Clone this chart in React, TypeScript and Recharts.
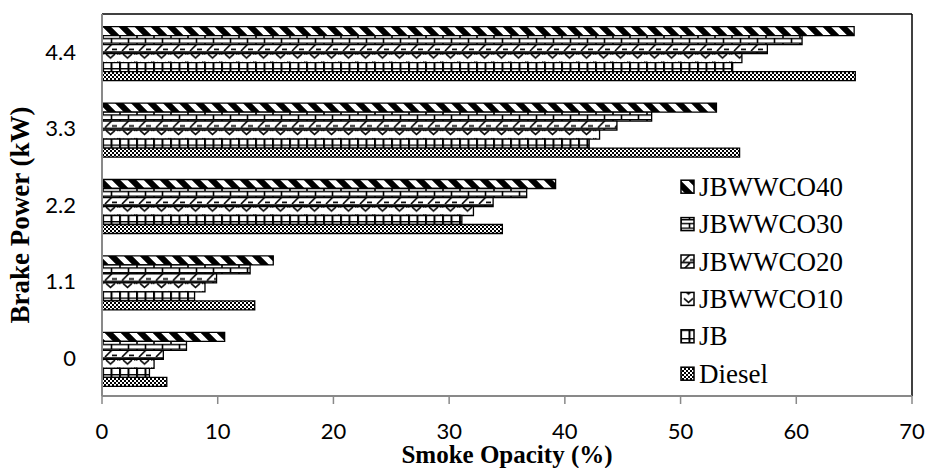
import React from 'react';
import { BarChart, Bar, XAxis, YAxis, Legend, ReferenceLine } from 'recharts';

// Brake power levels (category axis, bottom to top)
const powerLevels = ['0', '1.1', '2.2', '3.3', '4.4'];

// Smoke opacity (%) per fuel blend at each brake power level
const jbwwco40 = [10.6, 14.8, 39.2, 53.1, 65.0];
const jbwwco30 = [7.3, 12.8, 36.7, 47.5, 60.5];
const jbwwco20 = [5.3, 9.9, 33.8, 44.5, 57.5];
const jbwwco10 = [4.5, 8.9, 32.1, 43.0, 55.3];
const jb = [4.1, 8.0, 31.1, 42.1, 54.5];
const diesel = [5.6, 13.2, 34.6, 55.1, 65.1];

const xTicks = [0, 10, 20, 30, 40, 50, 60, 70];

const seriesList = [
  { key: 'JBWWCO40', values: jbwwco40, pattern: 'p40' },
  { key: 'JBWWCO30', values: jbwwco30, pattern: 'p30' },
  { key: 'JBWWCO20', values: jbwwco20, pattern: 'p20' },
  { key: 'JBWWCO10', values: jbwwco10, pattern: 'p10' },
  { key: 'JB', values: jb, pattern: 'pjb' },
  { key: 'Diesel', values: diesel, pattern: 'pdiesel' },
];

const data = powerLevels.map((power, i) => {
  const row: Record<string, string | number> = { power };
  seriesList.forEach((s) => {
    row[s.key] = s.values[i];
  });
  return row;
});

const AXIS_GRAY = '#898989';
const tickFont = { fill: '#000', fontFamily: 'Lato, Calibri, sans-serif', fontSize: 22 };
const SERIF = 'Liberation Serif';

const YTitle = (props: any) => {
  const vb = props.viewBox || { x: 0, y: 14, width: 102, height: 382 };
  const cx = vb.x + 20;
  const cy = vb.y + vb.height / 2 + 10;
  return (
    <text
      x={cx}
      y={cy}
      transform={`rotate(-90 ${cx} ${cy})`}
      textAnchor="middle"
      dominantBaseline="central"
      fontFamily={SERIF}
      fontWeight="bold"
      fontSize={27}
      fill="#000"
    >
      Brake Power (kW)
    </text>
  );
};

const XTitle = (props: any) => {
  const vb = props.viewBox || { x: 102, y: 396, width: 810, height: 72 };
  const cx = vb.x + vb.width / 2;
  const cy = vb.y + 58;
  return (
    <text
      x={cx}
      y={cy}
      textAnchor="middle"
      dominantBaseline="central"
      fontFamily={SERIF}
      fontWeight="bold"
      fontSize={25}
      fill="#000"
    >
      Smoke Opacity (%)
    </text>
  );
};

const ROW = 37.4;

const LegendContent = () => (
  <svg width={230} height={ROW * seriesList.length}>
    {seriesList.map((s, i) => {
      const cy = ROW * i + ROW / 2;
      return (
        <g key={s.key}>
          <rect x={1} y={cy - 6.5} width={13} height={13} fill={`url(#${s.pattern})`} stroke="#000" strokeWidth={1.5} />
          <text x={19} y={cy} dominantBaseline="central" fontFamily={SERIF} fontSize={27} fill="#000">
            {s.key}
          </text>
        </g>
      );
    })}
  </svg>
);

export default function App() {
  return (
    <div style={{ position: 'absolute', left: 0, top: 0, width: 927, height: 468, background: '#fff' }}>
      <BarChart
        width={927}
        height={468}
        data={data}
        layout="vertical"
        margin={{ top: 14, right: 15, bottom: 0, left: 0 }}
        barCategoryGap="16.6%"
        barGap={0}
      >
        <defs>
          <pattern id="p40" patternUnits="userSpaceOnUse" width={16} height={16}>
            <rect width={16} height={16} fill="#fff" />
            <path d="M-8,-8 L24,24 M-24,-8 L8,24 M8,-8 L40,24" stroke="#000" strokeWidth={6} />
          </pattern>
          <pattern id="p30" patternUnits="userSpaceOnUse" width={17} height={8.5}>
            <rect width={17} height={8.5} fill="#fff" />
            <path d="M0,0.5 L17,0.5 M0,4.5 L17,4.5 M1,0 L1,4.5 M9.5,4.5 L9.5,8.5" stroke="#000" strokeWidth={1.6} fill="none" />
          </pattern>
          <pattern id="p20" patternUnits="userSpaceOnUse" width={17} height={8.5}>
            <rect width={17} height={8.5} fill="#fff" />
            <path d="M0,1 L17,1 M3,8.5 L10,1.5 M10,7 L15,7" stroke="#000" strokeWidth={1.6} fill="none" />
          </pattern>
          <pattern id="p10" patternUnits="userSpaceOnUse" width={17} height={8.5}>
            <rect width={17} height={8.5} fill="#fff" />
            <path d="M4,3 L8.5,7 L13,3" stroke="#000" strokeWidth={1.6} fill="none" />
            <rect x={0} y={2} width={1.5} height={1.5} fill="#000" />
            <rect x={15} y={2} width={1.5} height={1.5} fill="#000" />
          </pattern>
          <pattern id="pjb" patternUnits="userSpaceOnUse" width={8.5} height={8.5}>
            <rect width={8.5} height={8.5} fill="#fff" />
            <path d="M1,0 L1,8.5 M0,0.5 L8.5,0.5" stroke="#000" strokeWidth={2} fill="none" />
          </pattern>
          <pattern id="pdiesel" patternUnits="userSpaceOnUse" width={4} height={4}>
            <rect width={4} height={4} fill="#fff" />
            <rect x={0} y={0} width={2} height={2} fill="#000" />
            <rect x={2} y={2} width={2} height={2} fill="#000" />
          </pattern>
        </defs>
        <XAxis
          type="number"
          domain={[0, 70]}
          ticks={xTicks}
          interval={0}
          height={72}
          tickSize={8}
          tickMargin={19}
          axisLine={{ stroke: AXIS_GRAY, strokeWidth: 2 }}
          tickLine={{ stroke: AXIS_GRAY, strokeWidth: 1.5 }}
          tick={tickFont}
          label={{ content: XTitle }}
        />
        <YAxis
          type="category"
          dataKey="power"
          reversed
          width={102}
          tickLine={false}
          tickSize={0}
          tickMargin={26}
          axisLine={{ stroke: AXIS_GRAY, strokeWidth: 2 }}
          tick={tickFont}
          label={{ content: YTitle }}
        />
        <ReferenceLine x={70} stroke="#000" strokeWidth={1.5} />
        <ReferenceLine y="4.4" position="start" stroke="#000" strokeWidth={1.5} />
        {seriesList.map((s) => (
          <Bar
            key={s.key}
            dataKey={s.key}
            fill={`url(#${s.pattern})`}
            stroke="#000"
            strokeWidth={1.3}
            isAnimationActive={false}
          />
        ))}
        <Legend
          layout="vertical"
          align="center"
          verticalAlign="middle"
          content={LegendContent}
          wrapperStyle={{ left: 680, top: 168, width: 230 }}
        />
      </BarChart>
    </div>
  );
}
